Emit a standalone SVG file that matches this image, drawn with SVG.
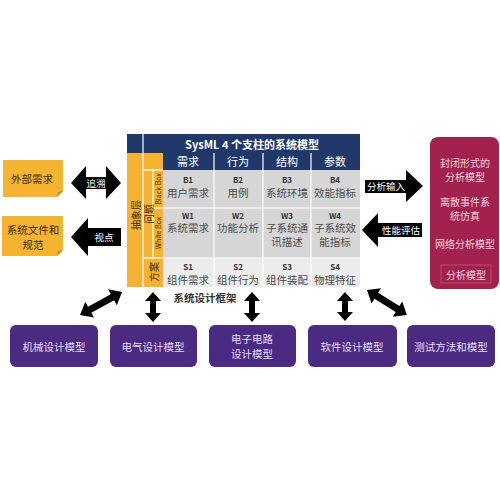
<svg xmlns="http://www.w3.org/2000/svg" width="500" height="500" viewBox="0 0 500 500">
<style>
text{font-family:"Noto Sans CJK SC","Liberation Sans",sans-serif;text-anchor:middle;dominant-baseline:central}
.or{fill:#f5b332}
.nv{fill:#21386b}
.g1{fill:#d6d6d6}
.g2{fill:#ececec}
.ct{font-size:10.5px;fill:#4a4a4a}
.cc{font-size:8px;font-weight:bold;fill:#333}
.hd{font-size:11px;fill:#fff}
.arr{fill:#000}
.at{font-size:9.5px;fill:#fff}
.pb{fill:#4b2a82}
.pt{font-size:10.5px;fill:#e6def4}
.mt{font-size:10px;fill:#f1d3de}
.ot{font-size:10.5px;fill:#3a2c10}
.lab{font-size:10px;fill:#3a2c10}
.sm{font-size:7px;fill:#3a2c10}
.ln{stroke:#fff;stroke-width:1.2}
</style>
<g id="matrix">
<rect class="nv" x="127" y="134" width="233" height="19"/>
<line class="ln" x1="143" y1="134" x2="143" y2="153"/>
<text x="252" y="144" style="font-size:11px;font-weight:bold;fill:#fff">SysML 4 个支柱的系统模型</text>
<rect class="or" x="127" y="153" width="36" height="134"/>
<rect class="nv" x="163" y="153" width="197" height="17"/>
<rect class="g1" x="163" y="170" width="197" height="88"/>
<rect class="g2" x="163" y="258" width="197" height="29"/>
<line class="ln" x1="143" y1="153" x2="143" y2="287"/>
<line class="ln" x1="143" y1="170" x2="163" y2="170"/>
<line class="ln" x1="153" y1="170" x2="153" y2="258"/>
<line class="ln" x1="153" y1="208" x2="163" y2="208"/>
<line class="ln" x1="143" y1="258" x2="163" y2="258"/>
<line class="ln" x1="163" y1="208" x2="360" y2="208"/>
<line class="ln" x1="163" y1="258" x2="360" y2="258"/>
<line class="ln" x1="214" y1="153" x2="214" y2="287"/>
<line class="ln" x1="263" y1="153" x2="263" y2="287"/>
<line class="ln" x1="311" y1="153" x2="311" y2="287"/>
<text class="hd" x="188" y="161">需求</text>
<text class="hd" x="238" y="161">行为</text>
<text class="hd" x="287" y="161">结构</text>
<text class="hd" x="335" y="161">参数</text>
<text class="lab" transform="translate(135 215) rotate(-90)">抽象层</text>
<text class="lab" transform="translate(148 214) rotate(-90)">问题</text>
<text class="sm" transform="translate(158 189) rotate(-90)">Black Box</text>
<text class="sm" transform="translate(158 233) rotate(-90)">White Box</text>
<text class="lab" transform="translate(153 272) rotate(-90)">方案</text>
<text class="cc" x="188" y="179">B1</text><text class="ct" x="188" y="192">用户需求</text>
<text class="cc" x="238" y="179">B2</text><text class="ct" x="238" y="192">用例</text>
<text class="cc" x="287" y="179">B3</text><text class="ct" x="287" y="192">系统环境</text>
<text class="cc" x="335" y="179">B4</text><text class="ct" x="335" y="192">效能指标</text>
<text class="cc" x="188" y="215">W1</text><text class="ct" x="188" y="227">系统需求</text>
<text class="cc" x="238" y="215">W2</text><text class="ct" x="238" y="227">功能分析</text>
<text class="cc" x="287" y="215">W3</text><text class="ct" x="287" y="227">子系统通</text><text class="ct" x="287" y="241">讯描述</text>
<text class="cc" x="335" y="215">W4</text><text class="ct" x="335" y="227">子系统效</text><text class="ct" x="335" y="241">能指标</text>
<text class="cc" x="188" y="266">S1</text><text class="ct" x="188" y="279">组件需求</text>
<text class="cc" x="238" y="266">S2</text><text class="ct" x="238" y="279">组件行为</text>
<text class="cc" x="287" y="266">S3</text><text class="ct" x="287" y="279">组件装配</text>
<text class="cc" x="335" y="266">S4</text><text class="ct" x="335" y="279">物理特征</text>
<text x="205" y="297" style="font-size:10.5px;font-weight:bold;fill:#333">系统设计框架</text>
</g>
<g id="ext-req">
<path class="or" d="M3,160 H63 V191 L57,197 H3 Z"/>
<path d="M57,197 L63,191 L58,192 Z" fill="#c98a1a"/>
<text class="ot" x="32" y="178">外部需求</text>
</g>
<g id="sys-doc">
<path class="or" d="M2,216 H63 V250 L57,256 H2 Z"/>
<path d="M57,256 L63,250 L58,251 Z" fill="#c98a1a"/>
<text class="ot" x="33" y="229">系统文件和</text>
<text class="ot" x="33" y="244">规范</text>
</g>
<g id="analysis">
<rect x="430" y="137" width="69" height="152" rx="8" fill="#a3214f"/>
<text class="mt" x="465" y="162">封闭形式的</text>
<text class="mt" x="465" y="176">分析模型</text>
<text class="mt" x="465" y="201">离散事件系</text>
<text class="mt" x="465" y="215">统仿真</text>
<text class="mt" x="465" y="243">网络分析模型</text>
<rect x="441" y="265" width="50" height="18" fill="none" stroke="#c8587e" stroke-width="0.8"/>
<text class="mt" x="466" y="274">分析模型</text>
</g>
<g id="mech"><rect class="pb" x="10" y="325" width="88" height="42" rx="6"/><text class="pt" x="54" y="346">机械设计模型</text></g>
<g id="elec"><rect class="pb" x="110" y="325" width="87" height="42" rx="6"/><text class="pt" x="153" y="346">电气设计模型</text></g>
<g id="circuit"><rect class="pb" x="209" y="325" width="87" height="42" rx="6"/><text class="pt" x="252" y="338">电子电路</text><text class="pt" x="252" y="353">设计模型</text></g>
<g id="soft"><rect class="pb" x="308" y="325" width="89" height="42" rx="6"/><text class="pt" x="352" y="346">软件设计模型</text></g>
<g id="test"><rect class="pb" x="407" y="325" width="88" height="42" rx="6"/><text class="pt" x="451" y="346">测试方法和模型</text></g>
<g id="connectors">
<path class="arr" d="M71,183 L86,166 L86,177 L106,177 L106,166 L121,183 L106,199 L106,189 L86,189 L86,199 Z"/>
<text class="at" x="96" y="183">追溯</text>
<path class="arr" d="M71,237 L88,218 L88,228 L121,228 L121,246 L88,246 L88,256 Z"/>
<text class="at" x="104" y="237">视点</text>
<path class="arr" d="M365,180 L406,180 L406,170 L423,186 L406,202 L406,193 L365,193 Z"/>
<text class="at" x="386" y="186">分析输入</text>
<path class="arr" d="M362,230 L378,213 L378,223 L422,223 L422,237 L378,237 L378,247 Z"/>
<text class="at" x="401" y="230">性能评估</text>
<path class="arr" d="M153,292 L161,301 L156,301 L156,313 L161,313 L153,322 L145,313 L150,313 L150,301 L145,301 Z"/>
<path class="arr" d="M252,292 L260,301 L255,301 L255,313 L260,313 L252,322 L244,313 L249,313 L249,301 L244,301 Z"/>
<path class="arr" d="M345,292 L353,301 L348,301 L348,312 L353,312 L345,321 L337,312 L342,312 L342,301 L337,301 Z"/>
<path class="arr" transform="translate(80 315) rotate(-28.7)" d="M0,0 L11,-9 L11,-3.5 L37,-3.5 L37,-9 L48,0 L37,9 L37,3.5 L11,3.5 L11,9 Z"/>
<path class="arr" transform="translate(367 290) rotate(32)" d="M0,0 L11,-9 L11,-3.5 L36,-3.5 L36,-9 L47,0 L36,9 L36,3.5 L11,3.5 L11,9 Z"/>
</g>
</svg>
